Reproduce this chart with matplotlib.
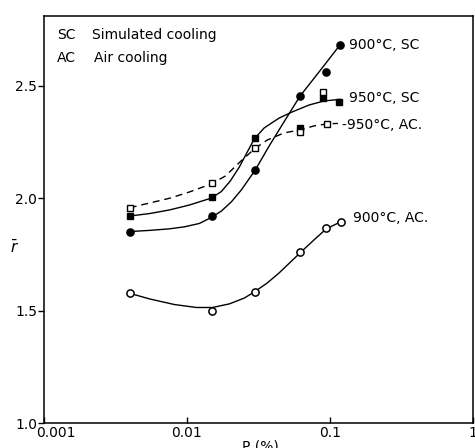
import matplotlib

matplotlib.use("Agg")
import matplotlib.pyplot as plt
import matplotlib.transforms as mtransforms

# measured points (P in %, mean r)
p_900sc = [0.004, 0.015, 0.0298, 0.062, 0.094, 0.117]
r_900sc = [1.852, 1.921, 2.126, 2.457, 2.563, 2.682]
p_950sc = [0.004, 0.015, 0.0298, 0.062, 0.0894, 0.1155]
r_950sc = [1.921, 2.004, 2.270, 2.314, 2.445, 2.430]
p_950ac = [0.004, 0.015, 0.0300, 0.062, 0.0894, 0.0953]
r_950ac = [1.958, 2.067, 2.223, 2.294, 2.474, 2.331]
p_900ac = [0.004, 0.015, 0.0298, 0.062, 0.094, 0.119]
r_900ac = [1.577, 1.498, 1.584, 1.760, 1.866, 1.896]

# hand-drawn fit curves
fit_p_900sc = [0.00398, 0.00548, 0.00755, 0.00961, 0.01222, 0.01482, 0.01739,
               0.02042, 0.02398, 0.03003, 0.03757, 0.04857, 0.06179, 0.08381,
               0.1174]
fit_r_900sc = [1.852, 1.857, 1.864, 1.873, 1.888, 1.915, 1.943,
               1.984, 2.037, 2.126, 2.233, 2.348, 2.455, 2.562,
               2.682]
fit_p_950sc = [0.00398, 0.00548, 0.00755, 0.0104, 0.01482, 0.01739, 0.02009,
               0.02322, 0.02640, 0.02955, 0.03467, 0.04411, 0.05434, 0.07141,
               0.09082, 0.1174]
fit_r_950sc = [1.921, 1.932, 1.948, 1.970, 2.001, 2.030, 2.077,
               2.139, 2.206, 2.264, 2.313, 2.357, 2.384, 2.415,
               2.433, 2.440]
fit_p_950ac = [0.00398, 0.00548, 0.00755, 0.0104, 0.01482, 0.01855, 0.02360,
               0.03003, 0.03639, 0.04779, 0.06179, 0.07737, 0.0953, 0.1136]
fit_r_950ac = [1.958, 1.979, 2.000, 2.028, 2.064, 2.099, 2.163,
               2.223, 2.259, 2.291, 2.304, 2.322, 2.331, 2.333]
fit_p_900ac = [0.00398, 0.00548, 0.00818, 0.01165, 0.01506, 0.01978, 0.02517,
               0.02955, 0.03639, 0.04411, 0.06248, 0.07862, 0.09378, 0.1193]
fit_r_900ac = [1.577, 1.552, 1.527, 1.514, 1.514, 1.530, 1.556,
               1.583, 1.623, 1.668, 1.760, 1.819, 1.863, 1.896]

x_ticks = [0.001, 0.01, 0.1, 1]
x_tick_labels = ["0.001", "0.01", "0.1", "1"]
y_ticks = [1.0, 1.5, 2.0, 2.5]
y_tick_labels = ["1.0", "1.5", "2.0", "2.5"]

plt.rcParams["font.family"] = ["DejaVu Sans"]

fig = plt.figure(figsize=(4.75, 4.48), dpi=100)
ax = fig.add_axes([44 / 475, 25 / 448, 429 / 475, 407 / 448])

lw = 1.0
ax.plot(fit_p_900sc, fit_r_900sc, color="black", linewidth=lw)
ax.plot(fit_p_950sc, fit_r_950sc, color="black", linewidth=lw)
ax.plot(fit_p_950ac, fit_r_950ac, color="black", linewidth=lw,
        linestyle=(0, (5, 3.5)))
ax.plot(fit_p_900ac, fit_r_900ac, color="black", linewidth=lw)

ax.plot(p_900sc, r_900sc, "o", color="black", markersize=5.2, linestyle="none")
ax.plot(p_950sc, r_950sc, "s", color="black", markersize=4.6, linestyle="none")
ax.plot(p_950ac, r_950ac, "s", markerfacecolor="white", markeredgecolor="black",
        markeredgewidth=1.0, markersize=4.6, linestyle="none")
ax.plot(p_900ac, r_900ac, "o", markerfacecolor="white", markeredgecolor="black",
        markeredgewidth=1.1, markersize=5.2, linestyle="none")

ax.set_xscale("log")
ax.set_xlim(0.001, 1.0)
ax.set_ylim(1.0, 2.811)
ax.set_xticks(x_ticks)
ax.set_xticklabels(x_tick_labels)
ax.set_yticks(y_ticks)
ax.set_yticklabels(y_tick_labels)
ax.minorticks_off()
ax.tick_params(axis="x", direction="in", length=4, width=1.0, pad=2, labelsize=10)
ax.tick_params(axis="y", direction="out", length=4, width=1.0, pad=1, labelsize=10)
for lab in ax.get_xticklabels()[:1]:
    lab.set_transform(lab.get_transform()
                      + mtransforms.ScaledTranslation(0.12, 0, fig.dpi_scale_trans))
for side in ax.spines.values():
    side.set_linewidth(1.1)

fs = 10
ax.text(0.0296, 0.953, "SC", transform=ax.transAxes, fontsize=fs, va="center")
ax.text(0.112, 0.953, "Simulated cooling", transform=ax.transAxes, fontsize=fs,
        va="center")
ax.text(0.0296, 0.898, "AC", transform=ax.transAxes, fontsize=fs, va="center")
ax.text(0.116, 0.898, "Air cooling", transform=ax.transAxes, fontsize=fs,
        va="center")

ax.text(0.1356, 2.681, "900°C, SC", fontsize=fs, va="center")
ax.text(0.1356, 2.444, "950°C, SC", fontsize=fs, va="center")
ax.text(0.1218, 2.326, "-950°C, AC.", fontsize=fs, va="center")
ax.text(0.1446, 1.912, "900°C, AC.", fontsize=fs, va="center")

fig.text(15 / 475, 1 - 247 / 448, r"$\bar{r}$", fontsize=11, ha="center",
         va="center")
fig.text(260 / 475, 1 - 439 / 448, "P (%)", fontsize=10, ha="center", va="top")

fig.savefig("out.png", dpi=100)
